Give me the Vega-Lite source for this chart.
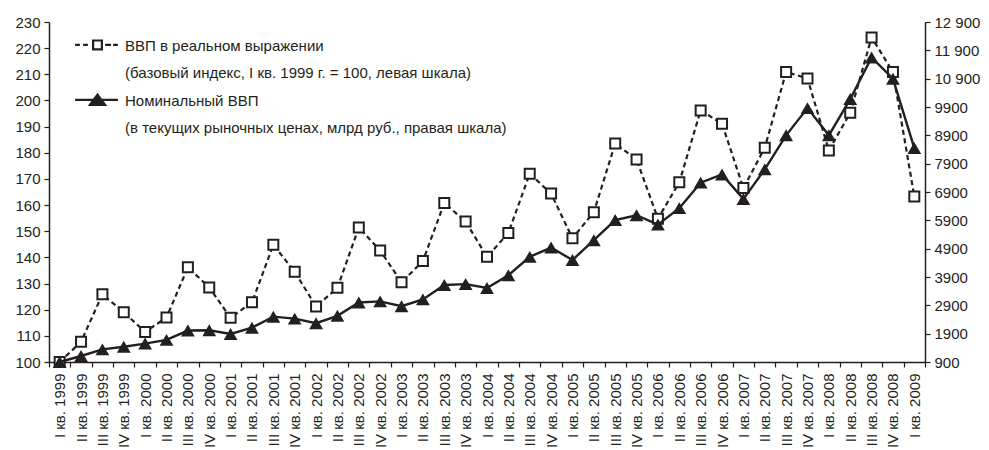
{
  "$schema": "https://vega.github.io/schema/vega-lite/v6.json",
  "width": 876,
  "height": 340,
  "autosize": "none",
  "padding": {"left": 49, "top": 22, "right": 64, "bottom": 88},
  "background": "white",
  "config": {
    "font": "Liberation Sans",
    "view": {"stroke": null},
    "style": {"guide-label": {"lineHeight": 27}},
    "axis": {
      "labelFont": "Liberation Sans",
      "labelFontSize": 15,
      "labelColor": "#231f20",
      "domainColor": "#231f20",
      "tickColor": "#231f20",
      "domainWidth": 1.5,
      "tickWidth": 1.2,
      "tickSize": 5,
      "grid": false,
      "title": null
    },
    "legend": {
      "orient": "none",
      "legendX": 41,
      "legendY": 9,
      "padding": 0,
      "labelFont": "Liberation Sans",
      "labelFontSize": 15,
      "labelColor": "#231f20",
      "labelLimit": 0,
      "labelBaseline": "top",
      "labelOffset": 20,
      "rowPadding": 5,
      "symbolSize": 64,
      "symbolStrokeColor": "#231f20",
      "symbolFillColor": "transparent",
      "symbolStrokeWidth": 2.2
    }
  },
  "data": {
    "values": [
      {"q": "I кв. 1999", "real": 100, "nom": 901},
      {"q": "II кв. 1999", "real": 107.7, "nom": 1112},
      {"q": "III кв. 1999", "real": 125.9, "nom": 1345},
      {"q": "IV кв. 1999", "real": 119, "nom": 1440},
      {"q": "I кв. 2000", "real": 111.5, "nom": 1550},
      {"q": "II кв. 2000", "real": 117, "nom": 1680},
      {"q": "III кв. 2000", "real": 136.2, "nom": 2010},
      {"q": "IV кв. 2000", "real": 128.5, "nom": 2020},
      {"q": "I кв. 2001", "real": 116.9, "nom": 1890},
      {"q": "II кв. 2001", "real": 122.8, "nom": 2110},
      {"q": "III кв. 2001", "real": 144.8, "nom": 2500},
      {"q": "IV кв. 2001", "real": 134.5, "nom": 2430},
      {"q": "I кв. 2002", "real": 121.2, "nom": 2270},
      {"q": "II кв. 2002", "real": 128.4, "nom": 2530},
      {"q": "III кв. 2002", "real": 151.4, "nom": 3000},
      {"q": "IV кв. 2002", "real": 142.6, "nom": 3040},
      {"q": "I кв. 2003", "real": 130.5, "nom": 2870},
      {"q": "II кв. 2003", "real": 138.6, "nom": 3110},
      {"q": "III кв. 2003", "real": 160.8, "nom": 3620},
      {"q": "IV кв. 2003", "real": 153.7, "nom": 3650},
      {"q": "I кв. 2004", "real": 140.2, "nom": 3510},
      {"q": "II кв. 2004", "real": 149.3, "nom": 3960},
      {"q": "III кв. 2004", "real": 172, "nom": 4610},
      {"q": "IV кв. 2004", "real": 164.4, "nom": 4940},
      {"q": "I кв. 2005", "real": 147.3, "nom": 4500},
      {"q": "II кв. 2005", "real": 157.3, "nom": 5200},
      {"q": "III кв. 2005", "real": 183.5, "nom": 5910},
      {"q": "IV кв. 2005", "real": 177.4, "nom": 6080},
      {"q": "I кв. 2006", "real": 154.8, "nom": 5750},
      {"q": "II кв. 2006", "real": 168.7, "nom": 6330},
      {"q": "III кв. 2006", "real": 196.2, "nom": 7230},
      {"q": "IV кв. 2006", "real": 191.1, "nom": 7520},
      {"q": "I кв. 2007", "real": 166.5, "nom": 6650},
      {"q": "II кв. 2007", "real": 181.9, "nom": 7700},
      {"q": "III кв. 2007", "real": 210.9, "nom": 8900},
      {"q": "IV кв. 2007", "real": 208.4, "nom": 9860},
      {"q": "I кв. 2008", "real": 180.9, "nom": 8900},
      {"q": "II кв. 2008", "real": 195.3, "nom": 10180},
      {"q": "III кв. 2008", "real": 224.1, "nom": 11650},
      {"q": "IV кв. 2008", "real": 210.9, "nom": 10900},
      {"q": "I кв. 2009", "real": 163.3, "nom": 8450}
    ]
  },
  "layer": [
    {
      "encoding": {
        "x": {
          "field": "q",
          "type": "ordinal",
          "sort": null,
          "scale": {"type": "band", "paddingInner": 0, "paddingOuter": 0},
          "axis": {"labelAngle": 270, "tickBand": "extent", "labelPadding": 6, "domainWidth": 1.5}
        },
        "y": {
          "field": "real",
          "type": "quantitative",
          "scale": {"domain": [100, 230], "nice": false, "zero": false},
          "axis": {"orient": "left", "values": [100,110,120,130,140,150,160,170,180,190,200,210,220,230], "labelPadding": 4}
        }
      },
      "layer": [
        {"mark": {"type": "line", "color": "#231f20", "strokeWidth": 2.2, "strokeDash": [5, 3.5]}},
        {"mark": {"type": "point", "shape": "square", "size": 100, "filled": true, "fill": "white", "stroke": "#231f20", "strokeWidth": 2, "opacity": 1}}
      ]
    },
    {
      "encoding": {
        "x": {"field": "q", "type": "ordinal", "sort": null},
        "y": {
          "field": "nom",
          "type": "quantitative",
          "scale": {"domain": [900, 12900], "nice": false, "zero": false},
          "axis": {
            "orient": "right",
            "values": [900,1900,2900,3900,4900,5900,6900,7900,8900,9900,10900,11900,12900],
            "labelExpr": "datum.value >= 10000 ? replace(format(datum.value, ','), ',', ' ') : format(datum.value, 'd')",
            "labelPadding": 4
          }
        }
      },
      "layer": [
        {"mark": {"type": "line", "color": "#231f20", "strokeWidth": 2.4}},
        {"mark": {"type": "point", "shape": "triangle-up", "size": 190, "filled": true, "fill": "#231f20", "opacity": 1}}
      ]
    },
    {
      "data": {"values": []},
      "mark": {"type": "point", "filled": false, "color": "#231f20", "strokeWidth": 2.2, "opacity": 1},
      "encoding": {
        "shape": {
          "datum": "ВВП в реальном выражении|(базовый индекс, I кв. 1999 г. = 100, левая шкала)",
          "scale": {
            "domain": ["ВВП в реальном выражении|(базовый индекс, I кв. 1999 г. = 100, левая шкала)", "Номинальный ВВП|(в текущих рыночных ценах, млрд  руб., правая шкала)"],
            "range": [
              "M-5.6,1.6H-4.4M-3.6,1.6H-2.4M-1.1,0.5H1.1V2.7H-1.1ZM1.9,1.6H3.4M3.9,1.6H5.1",
              "M-5.6,1.6H5.1M0,0.3L1.9,2.85L-1.9,2.85ZM0,1.02L1.045,2.42L-1.045,2.42ZM0,1.66L0.285,2.04L-0.285,2.04Z"
            ]
          },
          "legend": {
            "title": null,
            "labelExpr": "split(datum.label, '|')"
          }
        }
      }
    }
  ],
  "resolve": {"scale": {"y": "independent"}}
}
